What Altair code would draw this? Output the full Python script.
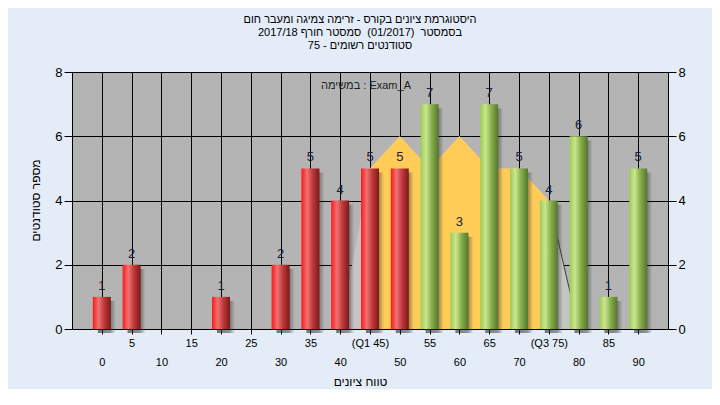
import altair as alt
import pandas as pd

# ---------------- data ----------------
scores = [0, 5, 10, 15, 20, 25, 30, 35, 40, 45, 50, 55, 60, 65, 70, 75, 80, 85, 90]
counts = [1, 2, 0, 0, 1, 0, 2, 5, 4, 5, 5, 7, 3, 7, 5, 4, 6, 1, 5]
tick_text = ["0", "5", "10", "15", "20", "25", "30", "35", "40", "(Q1 45)",
             "50", "55", "60", "65", "70", "(Q3 75)", "80", "85", "90"]
pass_mark = 55
q1, q3 = 45, 75

# band shape drawn between the quartiles
band_x = [40, 45, 50, 55, 60, 65, 70, 75, 80]
band_y = [0, 5, 6, 5, 6, 5, 5, 4, 0]

title_lines = [
    "היסטוגרמת ציונים בקורס - זרימה צמיגה ומעבר חום",
    "בסמסטר \u00a0(01/2017) \u00a0סמסטר חורף 2017/18",
    "סטודנטים רשומים - 75",
]
legend_text = "במשימה : Exam_A"
x_title = "טווח ציונים"
y_title = "מספר סטודנטים"

FONT = "Liberation Sans"

bars = pd.DataFrame({"score": scores, "count": counts})
bars = bars[bars["count"] > 0].copy()
band = pd.DataFrame({"x": band_x, "y": band_y})

xs = alt.Scale(domain=[-5, 95], nice=False, zero=False, padding=0)
ys = alt.Scale(domain=[0, 8], nice=False)

arr = "[" + ",".join("'" + t + "'" for t in tick_text) + "]"
vals = "[" + ",".join(str(v) for v in scores) + "]"
lab = f"{arr}[indexof({vals}, datum.value)]"
label_expr = f"(datum.value % 10 == 0) ? ['', {lab}] : [{lab}]"

x_axis = alt.Axis(
    values=scores, labelExpr=label_expr, labelOverlap=False, labelFlush=False,
    labelFontSize=11, labelFont=FONT, labelColor="#000000", labelLineHeight=19,
    labelPadding=3, labelBaseline="top",
    tickSize=5, tickColor="#000000", domainColor="#000000",
    grid=True, gridColor="#000000", gridWidth=1, gridOpacity=1,
    title=x_title, titleFont=FONT, titleFontSize=12, titleFontWeight="normal",
    titleColor="#000000", titleX=288, titleY=52, titleAlign="center", titleBaseline="middle",
)
y_axis_left = alt.Axis(
    values=[0, 2, 4, 6, 8], labelFontSize=13, labelFont=FONT, labelColor="#000000",
    tickSize=8, tickColor="#000000", domainColor="#000000", labelPadding=2,
    grid=True, gridColor="#000000", gridWidth=1, gridOpacity=1,
    title=y_title, titleFont=FONT, titleFontSize=12, titleFontWeight="normal",
    titleColor="#000000", titleX=-37, titleY=128, titleAngle=-90, titleAlign="center",
    titleBaseline="middle",
)
y_axis_right = alt.Axis(
    orient="right", values=[0, 2, 4, 6, 8], labelFontSize=13, labelFont=FONT,
    labelColor="#000000", tickSize=8, tickColor="#000000", domainColor="#000000",
    labelPadding=2, grid=False, title=None,
)


def stops(cols):
    return [alt.GradientStop(color=c, offset=o) for o, c in cols]


red_grad = alt.Gradient(gradient="linear", x1=0, x2=1, y1=0, y2=0, stops=stops(
    [(0, "#FF1818"), (0.32, "#F07272"), (0.62, "#C03A3A"), (1, "#7C1818")]))
green_grad = alt.Gradient(gradient="linear", x1=0, x2=1, y1=0, y2=0, stops=stops(
    [(0, "#9CCB52"), (0.3, "#CBE690"), (0.62, "#86AE4A"), (1, "#56752C")]))
shadow_grad = alt.Gradient(gradient="linear", x1=0, x2=1, y1=0, y2=0, stops=stops(
    [(0, "rgba(40,40,40,0.6)"), (0.7, "rgba(40,40,40,0.45)"), (1, "rgba(40,40,40,0)")]))

BW = 18


def X(field):
    return alt.X(field, scale=xs, axis=x_axis)


wedge = alt.Chart(band).mark_area(color="#C4C4C4").encode(
    x=X("x:Q"),
    y=alt.Y("y:Q", scale=ys, axis=y_axis_left),
)
yellow = alt.Chart(band).transform_filter(
    (alt.datum.x >= q1) & (alt.datum.x <= q3)
).mark_area(color="#FFCC58").encode(
    x=X("x:Q"),
    y=alt.Y("y:Q", scale=ys, axis=None),
)
edge = alt.Chart(band).transform_filter(alt.datum.x >= q3).mark_line(
    color="#3A3A3A", strokeWidth=1
).encode(
    x=X("x:Q"),
    y=alt.Y("y:Q", scale=ys, axis=None),
)

shadow = alt.Chart(bars).mark_bar(size=BW, xOffset=5, yOffset=4, fill=shadow_grad).encode(
    x=X("score:Q"),
    y=alt.Y("count:Q", scale=ys, axis=None),
)
red = alt.Chart(bars).transform_filter(alt.datum.score < pass_mark).mark_bar(
    size=BW, fill=red_grad).encode(
    x=X("score:Q"),
    y=alt.Y("count:Q", scale=ys, axis=None),
)
green = alt.Chart(bars).transform_filter(alt.datum.score >= pass_mark).mark_bar(
    size=BW, fill=green_grad).encode(
    x=X("score:Q"),
    y=alt.Y("count:Q", scale=ys, axis=None),
)
labels = alt.Chart(bars).mark_text(
    fontSize=13, font=FONT, color="#20203C", dy=-7, baseline="alphabetic"
).encode(
    x=X("score:Q"),
    y=alt.Y("count:Q", scale=ys, axis=y_axis_right),
    text=alt.Text("count:Q"),
)
legend = alt.Chart(pd.DataFrame({"t": [legend_text]})).mark_text(
    fontSize=11, font=FONT, color="#202020", align="center", baseline="middle"
).encode(text="t:N", x=alt.value(294), y=alt.value(14))

chart = alt.layer(wedge, yellow, edge, shadow, red, green, labels, legend).resolve_axis(
    y="independent"
).resolve_scale(y="shared").properties(
    width=596, height=257,
    padding={"left": 64, "top": 64, "right": 44, "bottom": 60},
    autosize=alt.AutoSizeParams(type="none"),
    background="#E3ECF7",
    title=alt.TitleParams(
        text=title_lines, fontSize=11, fontWeight="normal",
        font=FONT, color="#000000", anchor="middle", dx=-10, offset=15, lineHeight=13,
    ),
).configure_view(stroke="#000000", fill="#B4B4B4")

chart.save("out.html", embed_options={"renderer": "svg", "actions": False})
